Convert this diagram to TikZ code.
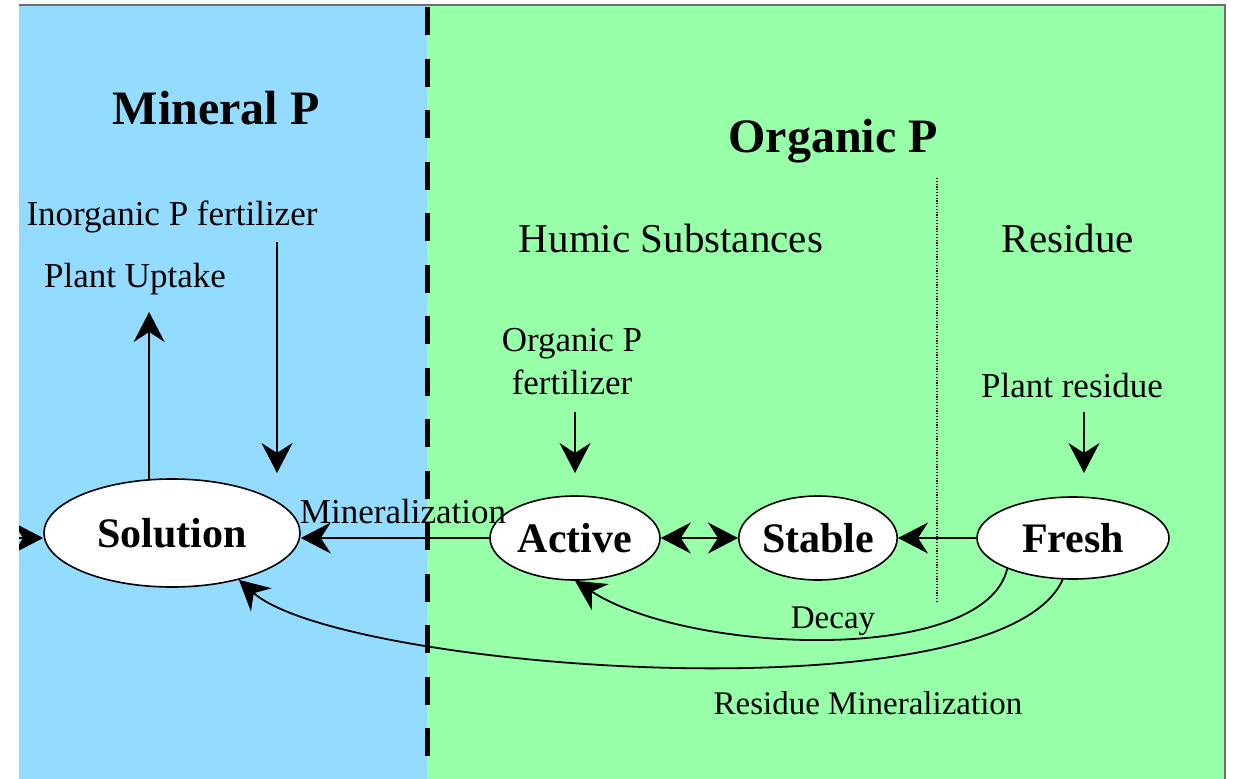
\documentclass[tikz,border=0pt]{standalone}
\usepackage{fontspec}
\setmainfont{Liberation Serif}
\usetikzlibrary{arrows.meta,shapes.geometric}
\definecolor{mineralbg}{RGB}{147,220,255}
\definecolor{organicbg}{RGB}{150,255,168}
\definecolor{framegray}{RGB}{110,110,110}

\begin{document}
\begin{tikzpicture}[x=1pt,y=-1pt,
  tipbig/.tip={Stealth[length=30pt,width=31pt,inset=10pt]},
  flow/.style={line width=1.8pt,-tipbig},
  flowboth/.style={line width=1.8pt,tipbig-tipbig},
  pool/.style={ellipse,draw,fill=white,line width=1.6pt,inner sep=0pt,
    font=\fontsize{42}{48}\selectfont\bfseries},
  title/.style={anchor=base,inner sep=0pt,font=\fontsize{48}{56}\selectfont\bfseries},
  heading/.style={anchor=base,inner sep=0pt,font=\fontsize{41}{48}\selectfont},
  lbl/.style={anchor=base,inner sep=0pt,font=\fontsize{35}{43}\selectfont},
  small/.style={anchor=base,inner sep=0pt,font=\fontsize{33}{40}\selectfont}
]
\useasboundingbox (0,0) rectangle (1235,779);

% background panels
\fill[white] (0,0) rectangle (1235,779);
\fill[mineralbg] (19,5) rectangle (427,779);
\fill[organicbg] (427,5) rectangle (1225,779);
\draw[framegray,line width=2pt] (19,5) -- (1225,5) -- (1225,779);

% boundary between mineral and organic pools
\draw[line width=5pt,dash pattern=on 28pt off 23.5pt] (427,7) -- (427,779);
% boundary between humic substances and residue
\draw[line width=1.2pt,dash pattern=on 1.2pt off 1.6pt] (937,178) -- (937,603);

% section titles
\node[title] (tmin) at (216,124) {Mineral P};
\node[title] (torg) at (833,152) {Organic P};
\node[heading] (thum) at (671,252) {Humic Substances};
\node[heading] (tres) at (1068,252) {Residue};

% pools
\node[pool,minimum width=256pt,minimum height=108pt] (sol) at (172,533) {Solution};
\node[pool,minimum width=170pt,minimum height=84pt] (act) at (575,538) {Active};
\node[pool,minimum width=147pt,minimum height=84pt] (stb) at (818,538) {Stable};
\node[pool,minimum width=192pt,minimum height=82pt] (frs) at (1073,538) {Fresh};

% inputs and outputs
\node[lbl] (inorg) at (172,225) {Inorganic P fertilizer};
\node[lbl] (uptk) at (135,287) {Plant Uptake};
\node[lbl,anchor=north,align=center] (ofert) at (572,328) {Organic P\\fertilizer};
\node[lbl] (pres) at (1072,397) {Plant residue};

\coordinate (inA) at (277,242);
\coordinate (inB) at (277,473);
\coordinate (upT) at (150,312);
\coordinate (ofA) at (575,412);
\coordinate (ofB) at (575,473);
\coordinate (prA) at (1084,412);
\coordinate (prB) at (1084,473);
\coordinate (lin) at (0,538);

\draw[flow] (inA) -- (inB);
\draw[flow] (sol.113) -- (sol.113 |- upT);
\draw[flow] (ofA) -- (ofB);
\draw[flow] (prA) -- (prB);

% flows between pools
\begin{scope}
  \clip (19,5) rectangle (1225,779);
  \draw[flow] (lin) -- (lin -| sol.west);
\end{scope}
\draw[flow] (act.west) -- (act.west -| sol.east);
\node[lbl] (lmin) at (403,523) {Mineralization};
\draw[flowboth] (act.east) -- (stb.west);
\draw[flow] (frs.west) -- (stb.east);

\draw[flow] (frs.205) .. controls (985,665) and (690,655) .. (act.south);
\node[small] (ldec) at (833,628) {Decay};
\draw[flow] (frs.256) .. controls (1000,720) and (340,670) .. (sol.-35);
\node[small] (lrmin) at (868,714) {Residue Mineralization};
\end{tikzpicture}
\end{document}
